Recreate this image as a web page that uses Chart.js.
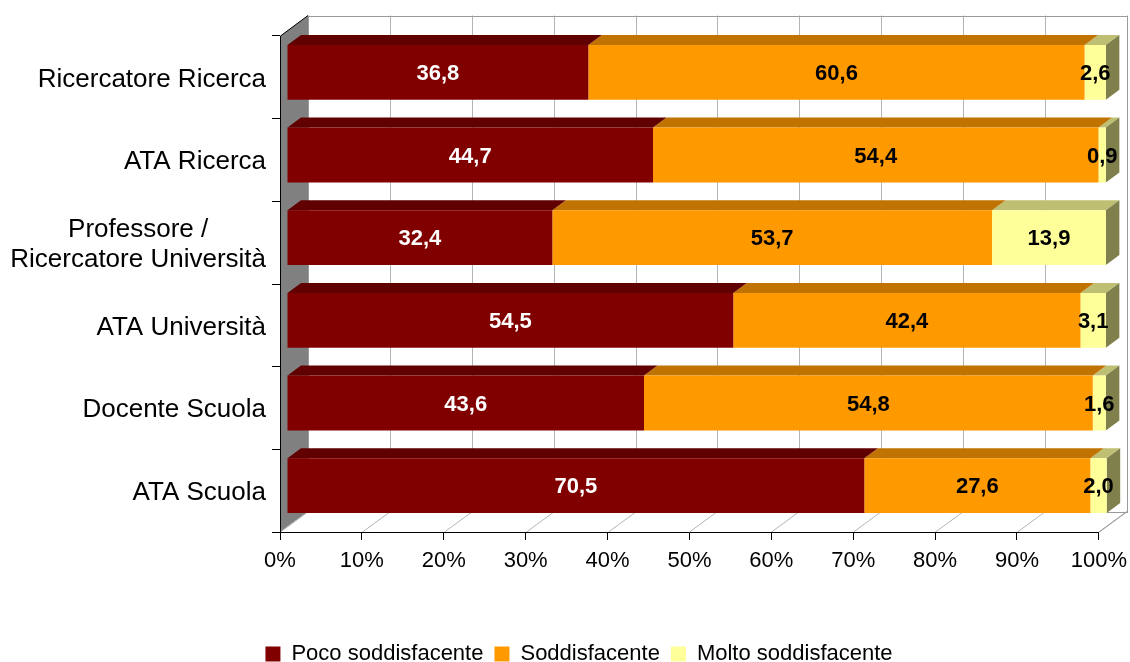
<!DOCTYPE html>
<html lang="it">
<head>
<meta charset="utf-8">
<title>Soddisfazione per profilo professionale</title>
<script src="https://cdn.jsdelivr.net/npm/chart.js@4/dist/chart.umd.min.js"></script>
<style>
  html, body { margin: 0; padding: 0; background: #ffffff; }
  #wrap { width: 1130px; height: 662px; }
</style>
</head>
<body>
<div id="wrap"><canvas id="chart" width="1130" height="662"></canvas></div>
<script>
// Profili professionali (dall'alto verso il basso)
const categories = [
  'Ricercatore Ricerca',
  'ATA Ricerca',
  ['Professore /', 'Ricercatore Università'],
  'ATA Università',
  'Docente Scuola',
  'ATA Scuola'
];

// Percentuali per livello di soddisfazione
const pocoSoddisfacente  = [36.8, 44.7, 32.4, 54.5, 43.6, 70.5];
const soddisfacente      = [60.6, 54.4, 53.7, 42.4, 54.8, 27.6];
const moltoSoddisfacente = [2.6, 0.9, 13.9, 3.1, 1.6, 2.0];

const seriesNames = ['Poco soddisfacente', 'Soddisfacente', 'Molto soddisfacente'];

// Scala percentuale dell'asse orizzontale
const axisMin = 0;
const axisMax = 100;
const axisStep = 10;

// Colori delle facce dei blocchi: frontale, superiore, laterale
const faceColors = [
  { front: '#800000', top: '#600000', side: '#400000', label: '#ffffff' },
  { front: '#FF9900', top: '#C07300', side: '#804D00', label: '#000000' },
  { front: '#FFFF99', top: '#BFBF73', side: '#80804D', label: '#000000' }
];

// Prospettiva 3D: profondità delle pareti e dei blocchi
const depth = { wallX: 28, wallY: -20.5, barX: 7, barY: -5, barDX: 13.5, barDY: -10 };

const FONT = 'Arial, "Liberation Sans", sans-serif';
const CAT_SIZE = 26;

// Centra le righe di un'etichetta su più righe aggiungendo spazi finali
function centerLines(label, size) {
  if (!Array.isArray(label)) return label;
  const c = document.createElement('canvas').getContext('2d');
  c.font = size + 'px ' + FONT;
  const widths = label.map(l => c.measureText(l).width);
  const maxW = Math.max(...widths);
  const spaceW = c.measureText(' ').width;
  return label.map((l, i) => l + ' '.repeat(Math.round((maxW - widths[i]) / 2 / spaceW)));
}

const fmt = v => v.toFixed(1).replace('.', ',');

const box3d = {
  id: 'box3d',
  afterLayout(chart) {
    // le etichette delle categorie possono usare tutto lo spazio a sinistra
    chart.scales.y.left = 0;
  },
  beforeDraw(chart) {
    const { ctx, chartArea: a, scales: { x } } = chart;
    const wx = depth.wallX, wy = depth.wallY;
    ctx.save();
    // parete di fondo
    ctx.fillStyle = '#ffffff';
    ctx.fillRect(a.left + wx, a.top + wy, a.right - a.left, a.bottom - a.top);
    // parete laterale
    ctx.fillStyle = '#808080';
    ctx.beginPath();
    ctx.moveTo(a.left, a.top);
    ctx.lineTo(a.left + wx, a.top + wy);
    ctx.lineTo(a.left + wx, a.bottom + wy);
    ctx.lineTo(a.left, a.bottom);
    ctx.closePath();
    ctx.fill();
    // griglia su parete di fondo e pavimento
    ctx.strokeStyle = '#b4b4b4';
    ctx.lineWidth = 1;
    x.ticks.forEach(t => {
      const px = Math.round(x.getPixelForValue(t.value)) + 0.5;
      ctx.beginPath();
      ctx.moveTo(px + wx, a.top + wy);
      ctx.lineTo(px + wx, a.bottom + wy);
      ctx.stroke();
      ctx.beginPath();
      ctx.moveTo(px, a.bottom);
      ctx.lineTo(px + wx, a.bottom + wy);
      ctx.stroke();
    });
    // bordo della parete di fondo
    ctx.strokeStyle = '#9a9a9a';
    ctx.strokeRect(Math.round(a.left + wx) + 0.5, Math.round(a.top + wy) + 0.5,
                   Math.round(a.right - a.left), Math.round(a.bottom - a.top));
    // spigolo del pavimento a destra
    ctx.beginPath();
    ctx.moveTo(a.right, a.bottom);
    ctx.lineTo(a.right + wx, a.bottom + wy);
    ctx.stroke();
    // spigolo superiore della parete laterale
    ctx.strokeStyle = '#000000';
    ctx.beginPath();
    ctx.moveTo(a.left + 0.5, a.top);
    ctx.lineTo(a.left + wx, a.top + wy);
    ctx.stroke();
    ctx.restore();
  },
  beforeDatasetsDraw(chart) {
    chart.ctx.save();
    chart.ctx.translate(depth.barX, depth.barY);
  },
  beforeDatasetDraw(chart, args) {
    const { ctx } = chart;
    const idx = args.index;
    const colors = faceColors[idx];
    const last = chart.data.datasets.length - 1;
    const dx = depth.barDX, dy = depth.barDY;
    args.meta.data.forEach(el => {
      const p = el.getProps(['x', 'y', 'base', 'height'], true);
      const l = Math.min(p.x, p.base), r = Math.max(p.x, p.base);
      if (r - l <= 0) return;
      const t = p.y - p.height / 2, b = p.y + p.height / 2;
      // faccia superiore
      ctx.fillStyle = colors.top;
      ctx.beginPath();
      ctx.moveTo(l, t);
      ctx.lineTo(r, t);
      ctx.lineTo(r + dx, t + dy);
      ctx.lineTo(l + dx, t + dy);
      ctx.closePath();
      ctx.fill();
      // faccia laterale (visibile solo sull'ultimo blocco)
      if (idx === last) {
        ctx.fillStyle = colors.side;
        ctx.beginPath();
        ctx.moveTo(r, t);
        ctx.lineTo(r + dx, t + dy);
        ctx.lineTo(r + dx, b + dy);
        ctx.lineTo(r, b);
        ctx.closePath();
        ctx.fill();
      }
    });
  },
  afterDatasetsDraw(chart) {
    const { ctx } = chart;
    ctx.restore();
    // etichette dei valori
    ctx.save();
    ctx.font = 'bold 22px ' + FONT;
    ctx.textAlign = 'center';
    ctx.textBaseline = 'middle';
    chart.data.datasets.forEach((ds, i) => {
      const meta = chart.getDatasetMeta(i);
      ctx.fillStyle = faceColors[i].label;
      meta.data.forEach((el, j) => {
        const p = el.getProps(['x', 'y', 'base'], true);
        ctx.fillText(fmt(ds.data[j]), (p.x + p.base) / 2 + depth.barX, p.y + depth.barY + 1.5);
      });
    });
    ctx.restore();
  }
};

const seriesData = [pocoSoddisfacente, soddisfacente, moltoSoddisfacente];

new Chart(document.getElementById('chart'), {
  type: 'bar',
  data: {
    labels: categories.map(c => centerLines(c, CAT_SIZE)),
    datasets: seriesData.map((d, i) => ({
      label: seriesNames[i],
      data: d,
      backgroundColor: faceColors[i].front,
      borderWidth: 0,
      clip: false,
      categoryPercentage: 0.664,
      barPercentage: 1
    }))
  },
  options: {
    indexAxis: 'y',
    responsive: false,
    animation: false,
    events: [],
    layout: { padding: { top: 36, right: 31, left: 59, bottom: -13 } },
    scales: {
      x: {
        stacked: true,
        min: axisMin,
        max: axisMax,
        grid: { drawOnChartArea: false, drawTicks: true, tickLength: 8, color: '#000000' },
        border: { display: true, color: '#000000' },
        ticks: {
          stepSize: axisStep,
          padding: 3,
          color: '#000000',
          font: { family: FONT, size: 22, lineHeight: 1.65 },
          callback: v => v + '%'
        },
        afterFit: s => { s.height = 100; }
      },
      y: {
        stacked: true,
        grid: { drawOnChartArea: false, drawTicks: true, tickLength: 8, color: '#000000', offset: true },
        border: { display: true, color: '#000000' },
        ticks: {
          padding: 6,
          labelOffset: 2,
          color: '#000000',
          font: { family: FONT, size: CAT_SIZE, lineHeight: 1.17 }
        },
        afterFit: s => { s.width = 221; }
      }
    },
    plugins: {
      legend: {
        position: 'bottom',
        labels: {
          boxWidth: 15,
          boxHeight: 15,
          padding: 11,
          color: '#000000',
          font: { family: FONT, size: 22 }
        }
      },
      tooltip: { enabled: false }
    }
  },
  plugins: [box3d]
});
</script>
</body>
</html>
